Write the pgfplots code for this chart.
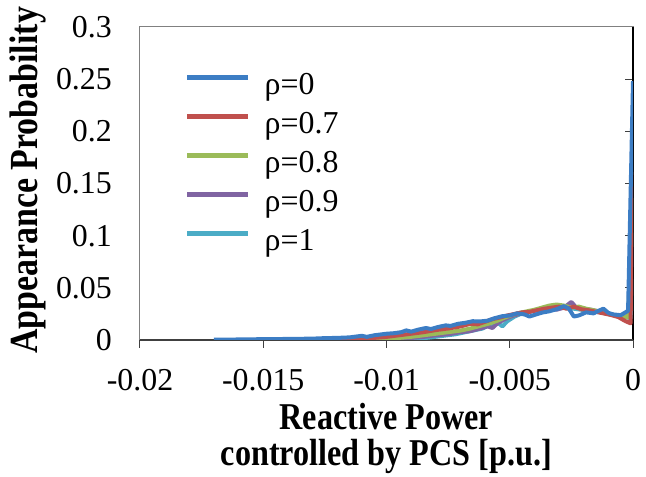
\documentclass[border=0pt]{standalone}
\usepackage{pgfplots}
\pgfplotsset{compat=1.18}
\usepackage{fontspec}
\setmainfont{Liberation Serif}
\newfontfamily\labfont[FakeStretch=0.85]{Liberation Serif}
\definecolor{cA}{HTML}{3C7DC4}
\definecolor{cB}{HTML}{C0504D}
\definecolor{cC}{HTML}{9BBB59}
\definecolor{cD}{HTML}{8064A2}
\definecolor{cE}{HTML}{4BACC6}
\pgfplotstableread{
x y
-0.0170 0.0003
-0.0160 0.0005
-0.0150 0.0008
-0.0140 0.0010
-0.0130 0.0013
-0.0125 0.0018
-0.0120 0.0020
-0.0115 0.0025
-0.0110 0.0040
-0.0108 0.0030
-0.0105 0.0045
-0.0100 0.0060
-0.0097 0.0065
-0.0094 0.0075
-0.0092 0.0092
-0.0090 0.0080
-0.0087 0.0100
-0.0084 0.0115
-0.0082 0.0105
-0.0079 0.0125
-0.0076 0.0140
-0.0074 0.0135
-0.0071 0.0155
-0.0068 0.0165
-0.0065 0.0180
-0.0062 0.0178
-0.0059 0.0185
-0.0056 0.0210
-0.0053 0.0228
-0.0050 0.0235
-0.0047 0.0255
-0.0044 0.0245
-0.0042 0.0225
-0.0040 0.0240
-0.0037 0.0262
-0.0034 0.0275
-0.0031 0.0295
-0.0028 0.0325
-0.0026 0.0300
-0.0024 0.0225
-0.0022 0.0235
-0.0019 0.0265
-0.0016 0.0255
-0.0014 0.0280
-0.0012 0.0300
-0.0010 0.0260
-0.0008 0.0245
-0.0005 0.0238
-0.0002 0.0280
0.0000 0.2480
}\rhoA
\pgfplotstableread{
x y
-0.0125 0.0003
-0.0115 0.0008
-0.0110 0.0010
-0.0105 0.0020
-0.0100 0.0030
-0.0095 0.0045
-0.0090 0.0060
-0.0085 0.0075
-0.0080 0.0095
-0.0075 0.0110
-0.0070 0.0130
-0.0066 0.0155
-0.0063 0.0150
-0.0060 0.0175
-0.0057 0.0200
-0.0054 0.0215
-0.0051 0.0235
-0.0048 0.0250
-0.0045 0.0265
-0.0042 0.0270
-0.0039 0.0285
-0.0036 0.0300
-0.0033 0.0310
-0.0030 0.0320
-0.0027 0.0300
-0.0024 0.0320
-0.0021 0.0295
-0.0018 0.0285
-0.0015 0.0270
-0.0012 0.0255
-0.0009 0.0240
-0.0006 0.0220
-0.0003 0.0180
-0.0001 0.0160
0.0000 0.1610
}\rhoB
\pgfplotstableread{
x y
-0.0110 0.0003
-0.0100 0.0010
-0.0090 0.0030
-0.0085 0.0045
-0.0080 0.0060
-0.0075 0.0075
-0.0070 0.0090
-0.0066 0.0110
-0.0062 0.0135
-0.0058 0.0160
-0.0055 0.0185
-0.0052 0.0215
-0.0049 0.0240
-0.0046 0.0260
-0.0043 0.0275
-0.0040 0.0290
-0.0037 0.0310
-0.0034 0.0330
-0.0031 0.0340
-0.0028 0.0330
-0.0025 0.0310
-0.0022 0.0320
-0.0019 0.0300
-0.0016 0.0285
-0.0013 0.0270
-0.0010 0.0250
-0.0007 0.0235
-0.0004 0.0225
-0.0002 0.0215
0.0000 0.1360
}\rhoC
\pgfplotstableread{
x y
-0.0100 0.0003
-0.0092 0.0015
-0.0085 0.0030
-0.0080 0.0045
-0.0075 0.0055
-0.0070 0.0075
-0.0066 0.0085
-0.0062 0.0110
-0.0059 0.0130
-0.0057 0.0115
-0.0055 0.0160
-0.0052 0.0200
-0.0049 0.0230
-0.0046 0.0250
-0.0043 0.0265
-0.0040 0.0280
-0.0037 0.0295
-0.0034 0.0310
-0.0031 0.0290
-0.0028 0.0310
-0.0025 0.0365
-0.0023 0.0310
-0.0020 0.0300
-0.0017 0.0290
-0.0014 0.0275
-0.0011 0.0255
-0.0008 0.0240
-0.0005 0.0235
-0.0002 0.0220
0.0000 0.1030
}\rhoD
\pgfplotstableread{
x y
-0.0095 0.0003
-0.0088 0.0010
-0.0082 0.0025
-0.0077 0.0040
-0.0072 0.0055
-0.0068 0.0075
-0.0064 0.0095
-0.0061 0.0110
-0.0058 0.0150
-0.0055 0.0170
-0.0053 0.0130
-0.0051 0.0180
-0.0048 0.0225
-0.0045 0.0255
-0.0042 0.0270
-0.0039 0.0290
-0.0036 0.0300
-0.0033 0.0310
-0.0030 0.0320
-0.0027 0.0305
-0.0024 0.0300
-0.0021 0.0290
-0.0018 0.0280
-0.0015 0.0270
-0.0012 0.0260
-0.0009 0.0245
-0.0006 0.0230
-0.0003 0.0220
-0.0001 0.0210
0.0000 0.0580
}\rhoE
\begin{document}
\begin{tikzpicture}[x=1bp,y=1bp]
\useasboundingbox (-140,-137) rectangle (506,340);
\begin{axis}[
  at={(0,0)}, anchor=south west,
  scale only axis, width=493bp, height=313bp,
  clip mode=individual,
  xmin=-0.02, xmax=0, ymin=0, ymax=0.3,
  xtick={-0.02,-0.015,-0.01,-0.005,0},
  xticklabels={-0.02,-0.015,-0.01,-0.005,0},
  ytick={0,0.05,0.1,0.15,0.2,0.25,0.3},
  yticklabels={0,0.05,0.1,0.15,0.2,0.25,0.3},
  scaled ticks=false,
  tick align=outside,
  xtick pos=bottom, ytick pos=right, yticklabel pos=left,
  major tick length=8bp,
  y tick style={xshift=-8bp},
  tick style={black!75, line width=1bp},
  axis line style={gray, line width=1bp},
  tick label style={font=\fontsize{32}{38}\selectfont, inner sep=0pt},
  xticklabel style={anchor=north, yshift=-21bp},
  yticklabel style={anchor=east, xshift=-20bp},
  extra x ticks={0}, extra x tick labels={},
  extra x tick style={grid=major, major grid style={black, line width=2bp}},
  extra y ticks={0}, extra y tick labels={},
  extra y tick style={grid=major, major grid style={black!75, line width=1.5bp}},
  xlabel={\labfont\bfseries\fontsize{38}{36}\selectfont Reactive Power},
  xlabel style={at={(axis description cs:0.5,-0.2875)}, anchor=base, inner sep=0pt},
  ylabel={\labfont\bfseries\fontsize{40}{36}\selectfont Appearance Probability},
  ylabel style={at={(axis description cs:-0.2069,0.51)}, anchor=base, inner sep=0pt},
  legend style={at={(axis description cs:0.0903,0.891)}, anchor=north west,
    draw=none, fill=none, inner sep=0pt, row sep=0pt,
    font=\fontsize{32}{38}\selectfont,
    nodes={inner sep=0pt, text height=24bp, text depth=6bp},
    /tikz/every odd column/.style={column sep=14bp}},
  legend cell align=left,
  legend image code/.code={\path[draw=none,fill=none] (0bp,-6bp) rectangle (61bp,24bp);
    \draw[#1, line width=5bp] (0bp,8bp) -- (61bp,8bp);},
  every axis plot/.append style={line width=4bp, line join=round},
]
\addlegendimage{cA}\addlegendentry{ρ=0}
\addlegendimage{cB}\addlegendentry{ρ=0.7}
\addlegendimage{cC}\addlegendentry{ρ=0.8}
\addlegendimage{cD}\addlegendentry{ρ=0.9}
\addlegendimage{cE}\addlegendentry{ρ=1}
\addplot[cE, forget plot] table {\rhoE};
\addplot[cD, forget plot] table {\rhoD};
\addplot[cC, forget plot] table {\rhoC};
\addplot[cB, forget plot] table {\rhoB};
\addplot[cA, forget plot] table {\rhoA};
\node[anchor=base, inner sep=0pt] at (axis description cs:0.5,-0.3994)
  {\labfont\bfseries\fontsize{38}{36}\selectfont controlled by PCS [p.u.]};
\end{axis}
\end{tikzpicture}
\end{document}
